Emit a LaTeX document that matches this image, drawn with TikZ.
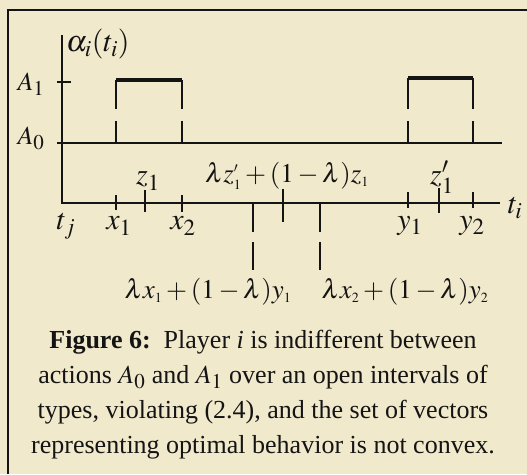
\documentclass[tikz,border=0pt]{standalone}
\usepackage{mathptmx}
\usepackage[no-math]{fontspec}
\setmainfont{Liberation Serif}
\usepackage{tikz}
\DeclareMathSizes{30}{30}{23}{17}
\DeclareMathSizes{26}{26}{21}{15}
\DeclareMathSizes{27}{27}{14}{10}
\definecolor{kagitBej}{HTML}{F1E9CC}
\definecolor{murekkep}{HTML}{141414}

\begin{document}
\begin{tikzpicture}[x=1pt,y=-1pt,line width=2pt,murekkep,
  etiket/.style={font=\fontsize{30}{32}\selectfont,inner sep=0pt},
  eksenYazi/.style={font=\fontsize{26}{28}\selectfont,inner sep=0pt},
  formul/.style={font=\fontsize{27}{29}\selectfont,inner sep=0pt}]
\fill[kagitBej] (0,0) rectangle (527,474);
\useasboundingbox (0,0) rectangle (527,474);
\draw[line width=2.6pt] (8,474)--(8,10)--(527,10);
% eksenler
\draw (62,35)--(62,203)--(500,203);
\draw (57,143)--(502,143);
\draw (57,82)--(71,82);
\node[etiket,anchor=west] (alfa) at (65,44) {$\alpha_i(t_i)$};
\node[eksenYazi] (aBir) at (31,84) {$A_1$};
\node[eksenYazi] (aSifir) at (31,138) {$A_0$};
\node[etiket] (tYatay) at (515,208) {$t_i$};
% darbeler
\draw[line width=4.4pt] (116,80)--(182,80);
\draw[line width=3.6pt] (408,78)--(473,78);
\foreach \x/\ust in {116/80,182/80,408/78,473/78}
  \draw (\x,\ust)--(\x,109) (\x,121)--(\x,143);
% yatay eksen isaretleri
\foreach \x/\a/\b in {116/195/210,145/190/212,182/195/212,283/189/222,408/192/208,439/188/213,473/192/208}
  \draw (\x,\a)--(\x,\b);
\foreach \x in {253,320}
  \draw (\x,203)--(\x,232) (\x,242)--(\x,270);
\node[etiket] (tj) at (66,226) {$t_j$};
\node[etiket] (xBir) at (119,226) {$x_1$};
\node[etiket] (xIki) at (183,226) {$x_2$};
\node[etiket] (yBir) at (410,226) {$y_1$};
\node[etiket] (yIki) at (472,226) {$y_2$};
\node[etiket] (zBir) at (148,181) {$z_1$};
\node[etiket] (zUssu) at (442,177) {$z_1'$};
\node[formul] (zOrta) at (287,176) {$\lambda z_1'+(1-\lambda)z_1$};
\node[formul] (solOrta) at (208,292) {$\lambda x_1+(1-\lambda)y_1$};
\node[formul] (sagOrta) at (405,292) {$\lambda x_2+(1-\lambda)y_2$};
% altyazi
\node[align=center,font=\fontsize{26}{35}\selectfont,inner sep=0pt] (altyazi) at (263,395)
  {\textbf{Figure 6:}\ \ Player \textit{i} is indifferent between\\
   actions $A_0$ and $A_1$ over an open intervals of\\
   types, violating (2.4), and the set of vectors\\
   representing optimal behavior is not convex.};
\end{tikzpicture}
\end{document}
